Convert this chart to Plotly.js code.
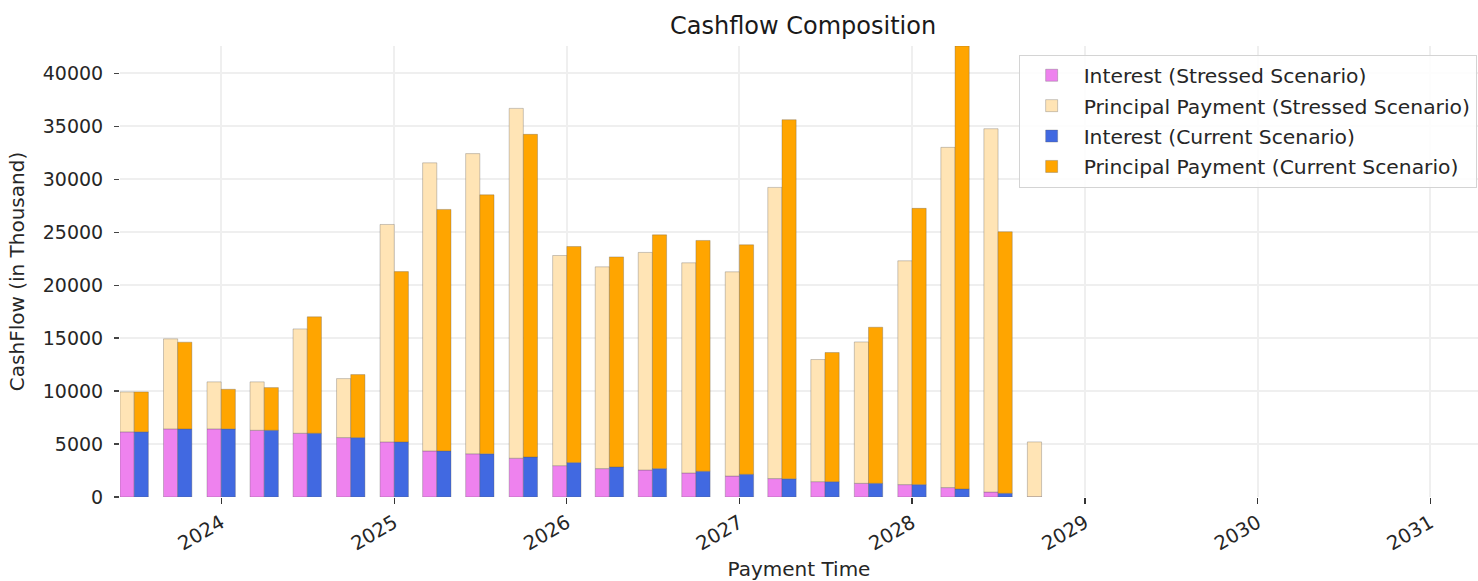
<!DOCTYPE html>
<html>
<head>
<meta charset="utf-8">
<script src="https://cdn.plot.ly/plotly-3.0.1.min.js"></script>
<style>html,body{margin:0;padding:0;background:#fff;}#chart{width:1478px;height:581px;}</style>
</head>
<body>
<div id="chart"></div>
<script>
// Payment dates (quarterly)
const paymentDates = ["2023-07-01","2023-10-01","2024-01-01","2024-04-01","2024-07-01","2024-10-01",
  "2025-01-01","2025-04-01","2025-07-01","2025-10-01","2026-01-01","2026-04-01","2026-07-01","2026-10-01",
  "2027-01-01","2027-04-01","2027-07-01","2027-10-01","2028-01-01","2028-04-01","2028-07-01","2028-10-01"];

// Stressed scenario (in thousand)
const interestStressed = [6150,6430,6430,6300,6020,5610,5200,4350,4080,3660,2960,2680,2550,2270,1980,1740,1450,1290,1170,890,470,30];
const principalStressed = [3770,8500,4440,4570,9850,5570,20530,27200,28340,33030,19840,19050,20540,19840,19280,27490,11530,13350,21130,32120,34300,5170];

// Current scenario (in thousand)
const interestCurrent = [6150,6430,6430,6300,6020,5610,5200,4350,4080,3780,3250,2840,2680,2430,2140,1720,1450,1290,1170,760,350];
const principalCurrent = [3770,8190,3740,4030,10990,5950,16080,22800,24450,30460,20400,19830,22070,21790,21670,33900,12190,14740,26080,41820,24690];

// Axis ticks
const yearTicks = ["2024-01-01","2025-01-01","2026-01-01","2027-01-01","2028-01-01","2029-01-01","2030-01-01","2031-01-01"];
const yearLabels = ["2024","2025","2026","2027","2028","2029","2030","2031"];
const yTicks = [0,5000,10000,15000,20000,25000,30000,35000,40000];

const DAY = 86400000;
const barWidth = 30 * DAY;
const edge = {width: 0.7, color: 'rgba(90,90,90,0.45)'};

const currentDates = paymentDates.slice(0, interestCurrent.length);

const traces = [
  {type:'bar', name:'Interest (Stressed Scenario)', x: paymentDates, y: interestStressed,
   width: barWidth, offset: -barWidth, marker:{color:'#EE82EE', line: edge}, legendgroup:'a'},
  {type:'bar', name:'Principal Payment (Stressed Scenario)', x: paymentDates, y: principalStressed, base: interestStressed,
   width: barWidth, offset: -barWidth, marker:{color:'#FFE4B5', line: edge}, legendgroup:'b'},
  {type:'bar', name:'Interest (Current Scenario)', x: currentDates, y: interestCurrent,
   width: barWidth, offset: 0, marker:{color:'#4169E1', line: edge}, legendgroup:'c'},
  {type:'bar', name:'Principal Payment (Current Scenario)', x: currentDates, y: principalCurrent, base: interestCurrent,
   width: barWidth, offset: 0, marker:{color:'#FFA500', line: edge}, legendgroup:'d'}
];

const totalsMax = Math.max(...interestCurrent.map((v,i)=>v+principalCurrent[i]),
                           ...interestStressed.map((v,i)=>v+principalStressed[i]));

const fam = '"DejaVu Sans", sans-serif';
const txt = '#262626';

const layout = {
  width:1478, height:581,
  margin:{l:120, r:0, t:46, b:84, pad:0},
  paper_bgcolor:'#fff', plot_bgcolor:'#fff',
  font:{family:fam, size:19, color:txt},
  barmode:'overlay',
  bargap:0,
  title:{text:'Cashflow Composition', font:{family:fam, size:24, color:'#1a1a1a'},
         xref:'paper', x:0.503, xanchor:'center', yref:'container', y:1-26/581, yanchor:'middle'},
  xaxis:{type:'date', range:['2023-06-01','2031-04-12'],
         tickmode:'array', tickvals: yearTicks, ticktext: yearLabels, tickangle:-30,
         ticks:'outside', ticklen:6, tickwidth:1.3, tickcolor:'#333',
         showgrid:true, gridcolor:'#efefef', gridwidth:2, showline:false, zeroline:false,
         tickfont:{family:fam, size:19.5, color:txt},
         title:{text:'Payment Time', font:{family:fam, size:20, color:txt}, standoff:10}},
  yaxis:{range:[0,totalsMax], tickmode:'array', tickvals:yTicks, tickformat:'d',
         ticks:'outside', ticklen:5, tickwidth:1.3, tickcolor:'#444', ticklabelstandoff:7,
         showgrid:true, gridcolor:'#efefef', gridwidth:2, showline:false, zeroline:false,
         tickfont:{family:fam, size:19, color:txt},
         title:{text:'CashFlow (in Thousand)', font:{family:fam, size:20, color:txt}, standoff:12}},
  legend:{x:0.999, xanchor:'right', y:0.981, yanchor:'top',
          bgcolor:'rgba(255,255,255,0.85)', bordercolor:'#d4d4d4', borderwidth:1,
          font:{family:fam, size:20.3, color:txt}, traceorder:'grouped', tracegroupgap:1,
          itemwidth:54}
};

Plotly.newPlot('chart', traces, layout, {displayModeBar:false, staticPlot:true});
</script>
</body>
</html>
